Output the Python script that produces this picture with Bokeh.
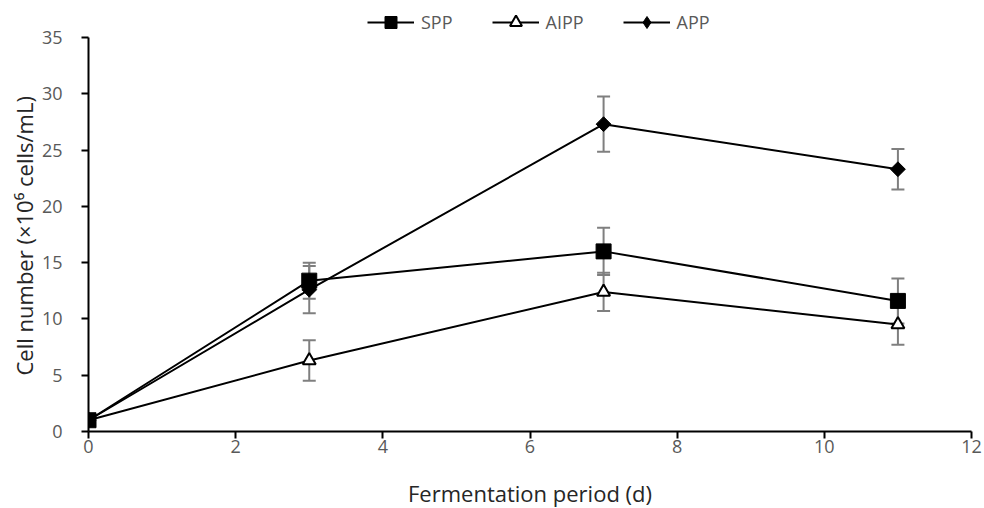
import math
from bokeh.plotting import figure
from bokeh.layouts import column
from bokeh.models import (ColumnDataSource, Whisker, TeeHead, Legend, LegendItem, FixedTicker,
                          Range1d, Title, Label)
from bokeh.embed import file_html
from bokeh.resources import INLINE

days = [0, 3, 7, 11]
spp = [1.0, 13.4, 16.0, 11.6]
spp_err = [0.0, 1.6, 2.1, 2.0]
aipp = [1.0, 6.3, 12.4, 9.5]
aipp_err = [0.0, 1.8, 1.7, 1.8]
app = [1.0, 12.6, 27.3, 23.3]
app_err = [0.0, 2.1, 2.45, 1.8]
x_ticks = [0, 2, 4, 6, 8, 10, 12]
y_ticks = [0, 5, 10, 15, 20, 25, 30, 35]
Y_MAX = 35

FONT = "Open Sans"
TXT = "#595959"
TITLE_C = "#262626"

p = figure(width=984, height=470, output_backend="svg", toolbar_location=None,
           x_range=Range1d(0, 12), y_range=Range1d(0, Y_MAX * 431 / 394),
           min_border_left=88, min_border_right=13, min_border_top=0, min_border_bottom=39)
p.outline_line_color = None
p.xgrid.visible = False
p.ygrid.visible = False

for ax, ticks in ((p.xaxis, x_ticks), (p.yaxis, y_ticks)):
    ax.ticker = FixedTicker(ticks=ticks)
    ax.axis_line_color = "black"
    ax.axis_line_width = 2
    ax.major_tick_line_color = "black"
    ax.major_tick_line_width = 2
    ax.major_tick_in = 0
    ax.major_tick_out = 7
    ax.minor_tick_line_color = None
    ax.major_label_text_font = FONT
    ax.major_label_text_font_size = "18px"
    ax.major_label_text_color = TXT

p.yaxis.bounds = (0, Y_MAX)
p.xaxis.major_label_standoff = 1
p.yaxis.major_label_standoff = 19

ytitle = Title(text="Cell number (×10⁶ cells/mL)", align="left", offset=56,
               text_font=FONT, text_font_size="22px", text_font_style="normal",
               text_color=TITLE_C, standoff=0)
p.add_layout(ytitle, "left")

def add_err(vals, errs):
    src = ColumnDataSource(dict(x=days, lo=[v - e for v, e in zip(vals, errs)],
                                hi=[v + e for v, e in zip(vals, errs)]))
    w = Whisker(source=src, base="x", lower="lo", upper="hi", dimension="height",
                line_color="#7f7f7f", line_width=2,
                upper_head=TeeHead(size=13, line_color="#7f7f7f", line_width=2),
                lower_head=TeeHead(size=13, line_color="#7f7f7f", line_width=2))
    w.level = "underlay"
    p.add_layout(w)

add_err(spp, spp_err)
add_err(aipp, aipp_err)
add_err(app, app_err)

l1 = p.line(days, spp, line_color="black", line_width=2)
m1 = p.scatter(days, spp, marker="square", size=15, fill_color="black", line_color="black")
l2 = p.line(days, aipp, line_color="black", line_width=2)
m2 = p.scatter(days, aipp, marker="triangle", size=13, fill_color="white", line_color="black", line_width=2)
l3 = p.line(days, app, line_color="black", line_width=2)
m3 = p.scatter(days, app, marker="square", size=10.5, angle=math.pi / 4,
               fill_color="black", line_color="black")
m3_key = p.scatter(days, app, marker="diamond", fill_color="black", line_color="black", visible=False)

legend = Legend(items=[LegendItem(label="SPP", renderers=[l1, m1]),
                       LegendItem(label="AIPP", renderers=[l2, m2]),
                       LegendItem(label="APP", renderers=[l3, m3_key])],
                orientation="horizontal", location=(279, 394),
                glyph_width=47, glyph_height=30, label_height=30,
                label_text_font=FONT, label_text_font_size="18px", label_text_color=TXT,
                spacing=39, padding=0, margin=0, label_standoff=7,
                border_line_color=None, background_fill_alpha=0)
p.add_layout(legend)

# x-axis title strip (its frame is aligned with the main plot's frame)
p2 = figure(width=984, height=38, output_backend="svg", toolbar_location=None,
            x_range=Range1d(0, 1), y_range=Range1d(0, 1),
            min_border_left=0, min_border_right=0, min_border_top=0, min_border_bottom=0,
            x_axis_type=None, y_axis_type=None)
p2.outline_line_color = None
p2.xgrid.visible = False
p2.ygrid.visible = False
p2.add_layout(Label(x=441.5, y=16, x_units="screen", y_units="screen",
                    text="Fermentation period (d)", text_align="center", text_baseline="middle",
                    text_font=FONT, text_font_size="22px", text_color=TITLE_C))

layout = column(p, p2, spacing=0)
open("out.html", "w").write(file_html(layout, INLINE))
